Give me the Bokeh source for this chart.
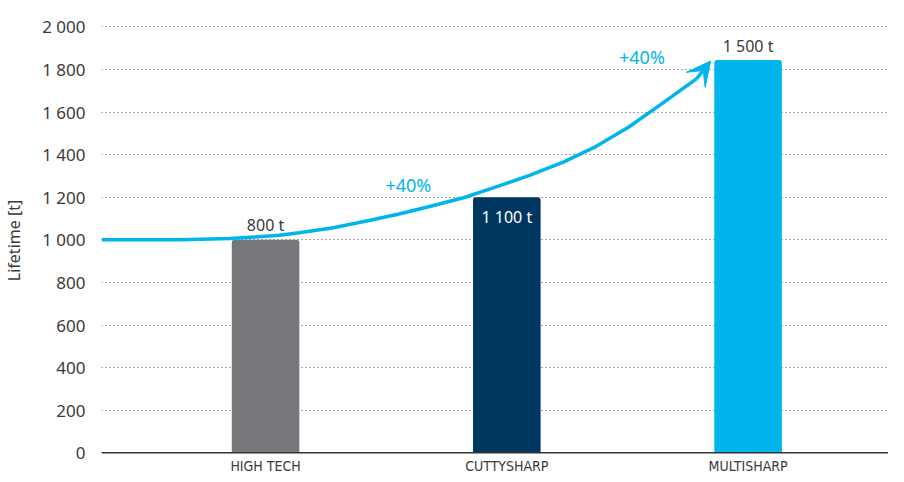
from bokeh.plotting import figure
from bokeh.models import ColumnDataSource, Range1d, FixedTicker, Arrow, VeeHead, Span
from bokeh.core.properties import value
from bokeh.embed import file_html
from bokeh.resources import INLINE

# ---- data ----
categories = ["HIGH TECH", "CUTTYSHARP", "MULTISHARP"]
cat_pos = [1, 2, 3]
bar_values = [1000, 1200, 1845]
bar_labels = ["800 t", "1 100 t", "1 500 t"]
bar_colors = ["#76777b", "#003761", "#00b5eb"]
y_ticks = [0, 200, 400, 600, 800, 1000, 1200, 1400, 1600, 1800, 2000]
y_tick_labels = ["0", "200", "400", "600", "800", "1 000", "1 200", "1 400", "1 600", "1 800", "2 000"]
curve_x = [0.32, 0.648, 0.852, 0.955, 1.057, 1.139, 1.275, 1.414, 1.549, 1.684, 1.824,
           1.959, 2.094, 2.234, 2.369, 2.504, 2.643, 2.725, 2.786]
curve_y = [1000, 1000, 1006, 1013, 1022, 1033, 1056, 1087, 1120, 1158, 1199,
           1250, 1303, 1365, 1438, 1529, 1640, 1707, 1756]
arrow_tip_x = 2.845
arrow_tip_y = 1840
pct_labels = ["+40%", "+40%"]
pct_x = [1.592, 2.560]
pct_y = [1260, 1858]

FONT = "Noto Sans"
NARROW = "Liberation Sans Narrow, DejaVu Sans Condensed, Lato"
BLUE = "#00b5eb"
TXT = "#3a3a3a"

p = figure(width=888, height=474, output_backend="svg", toolbar_location=None,
           x_range=Range1d(0.32, 3.582), y_range=Range1d(-102, 2096),
           min_border_left=92, min_border_right=0, min_border_top=6, min_border_bottom=0)
p.outline_line_color = None
p.background_fill_color = "white"
p.border_fill_color = "white"
p.xaxis.visible = False

# bars
src = ColumnDataSource(dict(x=cat_pos, top=bar_values, color=bar_colors, label=bar_labels))
p.vbar(x="x", top="top", bottom=0, width=0.28, fill_color="color", line_color=None,
       source=src, border_radius=(3, 3, 0, 0))

# baseline (x axis line)
p.add_layout(Span(location=0, dimension="width", line_color="#333333", line_width=1.5))

# curve + arrow head
p.line(curve_x, curve_y, line_color=BLUE, line_width=3.5, line_join="round")
p.add_layout(Arrow(end=VeeHead(size=24, fill_color=BLUE, line_color=BLUE),
                   x_start=curve_x[-1], y_start=curve_y[-1],
                   x_end=arrow_tip_x, y_end=arrow_tip_y,
                   line_color=BLUE, line_width=3.5))

# bar labels
p.text(x=[cat_pos[0]], y=[bar_values[0]], text=[bar_labels[0]], text_align="center",
       text_baseline="bottom", y_offset=-4, text_color=TXT, text_font_size="16px",
       text_font=value(FONT))
p.text(x=[cat_pos[1]], y=[bar_values[1]], text=[bar_labels[1]], text_align="center",
       text_baseline="top", y_offset=9, text_color="white", text_font_size="16px",
       text_font=value(FONT))
p.text(x=[cat_pos[2]], y=[bar_values[2]], text=[bar_labels[2]], text_align="center",
       text_baseline="bottom", y_offset=-3, text_color=TXT, text_font_size="16px",
       text_font=value(FONT))

# percentage labels
p.text(x=pct_x, y=pct_y, text=pct_labels, text_align="center", text_baseline="middle",
       text_color=BLUE, text_font_size="18px", text_font=value(FONT))

# category labels below the baseline
p.text(x=cat_pos, y=[0] * len(cat_pos), text=categories, text_align="center",
       text_baseline="middle", y_offset=13, text_color=TXT, text_font_size="14px",
       text_font=value(NARROW))

# y axis
p.yaxis.ticker = FixedTicker(ticks=y_ticks)
p.yaxis.major_label_overrides = {t: l for t, l in zip(y_ticks, y_tick_labels)}
p.yaxis.axis_line_color = None
p.yaxis.major_tick_line_color = None
p.yaxis.major_tick_out = 0
p.yaxis.major_tick_in = 0
p.yaxis.minor_tick_line_color = None
p.yaxis.major_label_text_font = FONT
p.yaxis.major_label_text_font_size = "17px"
p.yaxis.major_label_text_color = TXT
p.yaxis.major_label_standoff = 16
p.yaxis.axis_label = "Lifetime [t]"
p.yaxis.axis_label_text_font = FONT
p.yaxis.axis_label_text_font_size = "16px"
p.yaxis.axis_label_text_font_style = "normal"
p.yaxis.axis_label_text_color = TXT
p.yaxis.axis_label_standoff = 14

p.xgrid.grid_line_color = None
p.ygrid.grid_line_color = "#555555"
p.ygrid.grid_line_dash = "1 3"
p.ygrid.grid_line_width = 1

open("out.html", "w").write(file_html(p, INLINE))
